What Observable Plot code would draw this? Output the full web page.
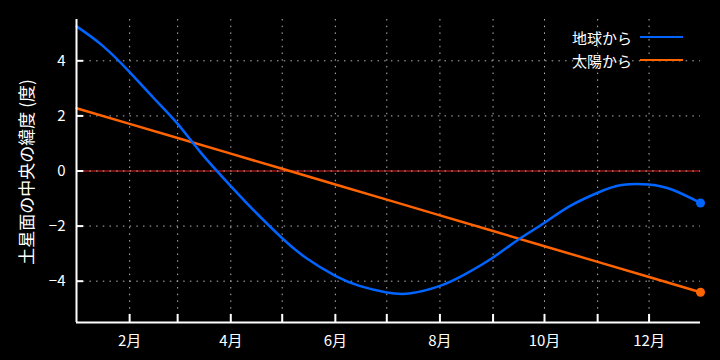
<!DOCTYPE html>
<html><head><meta charset="utf-8">
<script src="https://cdn.jsdelivr.net/npm/d3@7"></script>
<script src="https://cdn.jsdelivr.net/npm/@observablehq/plot@0.6"></script>
<style>
html,body{margin:0;padding:0;background:#000;}
#wrap{position:relative;width:720px;height:360px;background:#000;font-family:"Noto Sans CJK JP",sans-serif;color:#fff;overflow:hidden;}
#wrap svg text{font-size:15px;font-family:"Noto Sans CJK JP",sans-serif;}
#ylabel{position:absolute;left:25px;top:172px;transform:translate(-50%,-50%) rotate(-90deg);font-size:17px;white-space:nowrap;line-height:1;}
.leg{position:absolute;right:88px;font-size:15px;line-height:1;transform:translateY(-50%);white-space:nowrap;}
.legline{position:absolute;left:640px;width:43px;height:2px;}
</style>
</head><body>
<div id="wrap"></div>
<script>
// ---- data ----
const earthDates = ["2025-01-01","2025-01-16","2025-02-01","2025-02-15","2025-03-01","2025-03-15","2025-04-01","2025-04-15","2025-05-01","2025-05-15","2025-06-01","2025-06-15","2025-07-01","2025-07-15","2025-08-01","2025-08-15","2025-09-01","2025-09-15","2025-10-01","2025-10-15","2025-11-01","2025-11-15","2025-12-01","2025-12-15","2025-12-31"];
const earthValues = [5.25,4.56,3.59,2.65,1.71,0.63,-0.55,-1.47,-2.44,-3.16,-3.81,-4.17,-4.41,-4.44,-4.17,-3.77,-3.14,-2.52,-1.88,-1.30,-0.79,-0.51,-0.49,-0.69,-1.16];
const sunDates = ["2025-01-01","2025-02-01","2025-03-01","2025-04-01","2025-05-01","2025-06-01","2025-07-01","2025-08-01","2025-09-01","2025-10-01","2025-11-01","2025-12-01","2025-12-31"];
const sunValues = [2.28,1.71,1.20,0.63,0.08,-0.49,-1.04,-1.61,-2.18,-2.73,-3.30,-3.85,-4.40];
const seriesNames = ["地球から","太陽から"];
const seriesColors = ["#0064ff","#ff6400"];
const yTickValues = [-4,-2,0,2,4];
const xDomain = ["2025-01-01","2025-12-31"];
const yDomain = [-5.5,5.5];
const yTitle = "土星面の中央の緯度 (度)";
const monthSuffix = "月";

// ---- build ----
const parse = d3.utcParse("%Y-%m-%d");
const earth = earthDates.map((d,i)=>({date:parse(d), v:earthValues[i]}));
const sun = sunDates.map((d,i)=>({date:parse(d), v:sunValues[i]}));
const monthTicks = d3.utcMonth.range(parse("2025-02-01"), parse("2025-12-02"));
const labelTicks = monthTicks.filter((d,i)=>i%2===0);
const W=720,H=360,mL=76,mR=20,mT=19,mB=38;
const fw=W-mL-mR, fh=H-mT-mB;
const gridStyle={stroke:"#b4b4b4",strokeOpacity:1,strokeWidth:1,strokeDasharray:"1.5,5.2"};

const chart = Plot.plot({
  width:W,height:H,marginLeft:mL,marginRight:mR,marginTop:mT,marginBottom:mB,
  style:{background:"black",color:"white",fontFamily:'"Noto Sans CJK JP",sans-serif',fontSize:"15px"},
  x:{type:"utc",domain:xDomain.map(parse)},
  y:{domain:yDomain},
  marks:[
    Plot.gridX(monthTicks,gridStyle),
    Plot.ruleY([0],{stroke:"#e61e1e",strokeWidth:1.2}),
    Plot.gridY(yTickValues,gridStyle),
    Plot.lineY(sun,{x:"date",y:"v",stroke:seriesColors[1],strokeWidth:2.5}),
    Plot.lineY(earth,{x:"date",y:"v",stroke:seriesColors[0],strokeWidth:2.5,curve:"natural"}),
    Plot.dot([sun[sun.length-1]],{x:"date",y:"v",r:4.5,fill:seriesColors[1]}),
    Plot.dot([earth[earth.length-1]],{x:"date",y:"v",r:4.5,fill:seriesColors[0]}),
    Plot.tickY(yTickValues,{y:d=>d,stroke:"white",strokeWidth:2,insetRight:fw-7}),
    Plot.tickX(monthTicks,{x:d=>d,stroke:"white",strokeWidth:2,insetTop:fh-8}),
    Plot.ruleX([parse(xDomain[0])],{stroke:"white",strokeWidth:2}),
    Plot.ruleY([yDomain[0]],{stroke:"white",strokeWidth:2}),
    Plot.axisY(yTickValues,{tickSize:0,tickPadding:11,label:null}),
    Plot.axisX(labelTicks,{tickSize:0,tickPadding:13,label:null,tickFormat:d=>`${d.getUTCMonth()+1}${monthSuffix}`})
  ]
});
const wrap=document.getElementById("wrap");
wrap.appendChild(chart);
const yl=document.createElement("div"); yl.id="ylabel"; yl.textContent=yTitle; wrap.appendChild(yl);
const legY=[37,60];
seriesNames.forEach((n,i)=>{
  const t=document.createElement("div"); t.className="leg"; t.style.top=legY[i]+"px"; t.textContent=n; wrap.appendChild(t);
  const l=document.createElement("div"); l.className="legline"; l.style.top=(legY[i]-1)+"px"; l.style.background=seriesColors[i]; wrap.appendChild(l);
});
</script>
</body></html>
